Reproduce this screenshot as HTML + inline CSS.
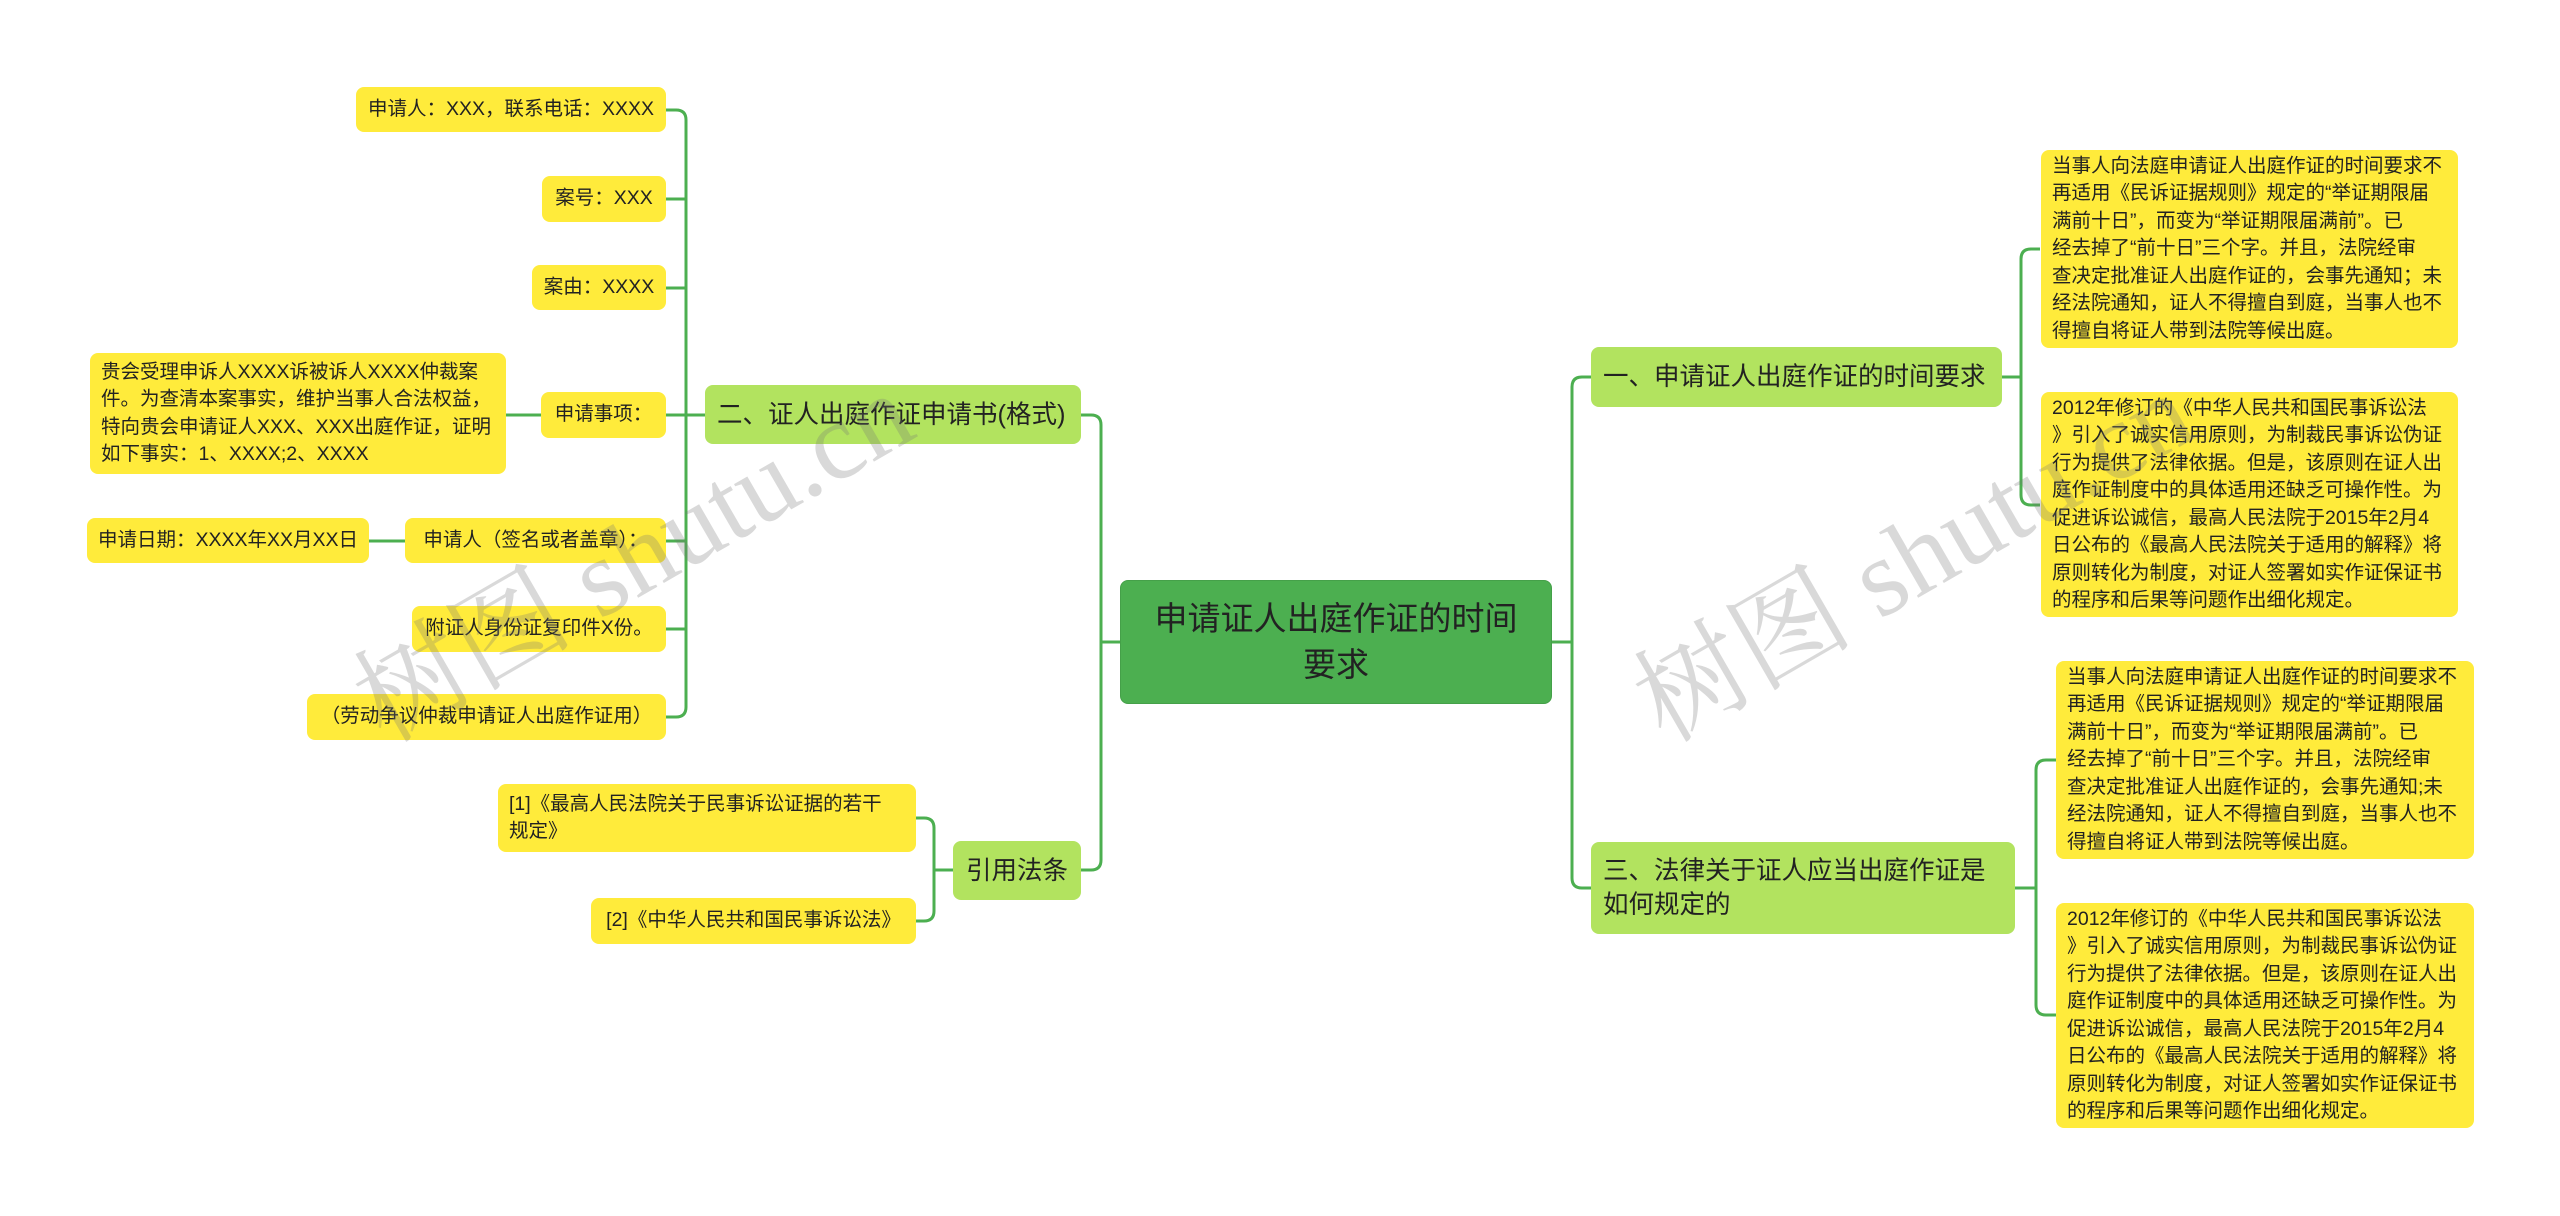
<!DOCTYPE html>
<html><head><meta charset="utf-8"><style>
body{margin:0;width:2560px;height:1216px;background:#fff;position:relative;overflow:hidden;font-family:"Liberation Sans","Noto Sans CJK SC",sans-serif;color:#222}
.n{position:absolute;box-sizing:border-box;border-radius:8px;display:flex;align-items:center;white-space:nowrap}
.y{background:#ffeb3b;font-size:19.5px;line-height:27.5px;padding:0 11px}
.g{background:#b2e35f;font-size:25.5px;line-height:34px;padding:0 12px}
.c{background:#4caf50;font-size:33px;line-height:46px;justify-content:center;text-align:center;border:1px solid #45a049}
.r{justify-content:center}
.wm{position:absolute;font-family:"Liberation Serif","Noto Serif CJK SC",serif;font-size:110px;color:rgba(120,120,120,0.28);transform:rotate(-30deg);white-space:nowrap}
</style></head><body>
<svg width="2560" height="1216" style="position:absolute;left:0;top:0" fill="none" stroke="#4caf50" stroke-width="3">
<path d="M1120 642 H1101"/>
<path d="M1081 415 H1091 Q1101 415 1101 425 V860 Q1101 870 1091 870 H1081"/>
<path d="M1551 642 H1572"/>
<path d="M1591 377 H1582 Q1572 377 1572 387 V878 Q1572 888 1582 888 H1591"/>
<path d="M2002 377 H2021"/>
<path d="M2040 249 H2031 Q2021 249 2021 259 V495 Q2021 505 2031 505 H2040"/>
<path d="M2015 888 H2036"/>
<path d="M2056 760 H2046 Q2036 760 2036 770 V1005 Q2036 1015 2046 1015 H2056"/>
<path d="M705 415 H686"/>
<path d="M666 110 H676 Q686 110 686 120 V707 Q686 717 676 717 H666"/>
<path d="M666 199 H686 M666 288 H686 M666 415 H686 M666 541 H686 M666 629 H686"/>
<path d="M541 415 H506"/>
<path d="M405 541 H369"/>
<path d="M953 870 H934"/>
<path d="M916 818 H924 Q934 818 934 828 V911 Q934 921 924 921 H916"/>
</svg>
<div class="n c" style="left:1120px;top:580px;width:432px;height:124px">申请证人出庭作证的时间<br>要求</div>
<div class="n g" style="left:705px;top:385px;width:376px;height:59px">二、证人出庭作证申请书(格式)</div>
<div class="n g" style="left:953px;top:841px;width:128px;height:59px;justify-content:center">引用法条</div>
<div class="n g" style="left:1591px;top:347px;width:411px;height:60px">一、申请证人出庭作证的时间要求</div>
<div class="n g" style="left:1591px;top:842px;width:424px;height:92px">三、法律关于证人应当出庭作证是<br>如何规定的</div>

<div class="n y r" style="left:356px;top:87px;width:310px;height:45px">申请人：XXX，联系电话：XXXX</div>
<div class="n y r" style="left:542px;top:176px;width:124px;height:46px">案号：XXX</div>
<div class="n y r" style="left:532px;top:265px;width:134px;height:45px">案由：XXXX</div>
<div class="n y r" style="left:541px;top:392px;width:125px;height:46px">申请事项：</div>
<div class="n y" style="left:90px;top:353px;width:416px;height:121px">贵会受理申诉人XXXX诉被诉人XXXX仲裁案<br>件。为查清本案事实，维护当事人合法权益，<br>特向贵会申请证人XXX、XXX出庭作证，证明<br>如下事实：1、XXXX;2、XXXX</div>
<div class="n y r" style="left:405px;top:518px;width:261px;height:45px">申请人（签名或者盖章）：</div>
<div class="n y r" style="left:87px;top:518px;width:282px;height:45px">申请日期：XXXX年XX月XX日</div>
<div class="n y r" style="left:412px;top:606px;width:254px;height:46px">附证人身份证复印件X份。</div>
<div class="n y r" style="left:307px;top:694px;width:359px;height:46px">（劳动争议仲裁申请证人出庭作证用）</div>
<div class="n y" style="left:498px;top:784px;width:418px;height:68px">[1]《最高人民法院关于民事诉讼证据的若干<br>规定》</div>
<div class="n y r" style="left:591px;top:898px;width:325px;height:46px">[2]《中华人民共和国民事诉讼法》</div>

<div class="n y" style="left:2041px;top:150px;width:417px;height:198px">当事人向法庭申请证人出庭作证的时间要求不<br>再适用《民诉证据规则》规定的“举证期限届<br>满前十日”，而变为“举证期限届满前”。已<br>经去掉了“前十日”三个字。并且，法院经审<br>查决定批准证人出庭作证的，会事先通知；未<br>经法院通知，证人不得擅自到庭，当事人也不<br>得擅自将证人带到法院等候出庭。</div>
<div class="n y" style="left:2041px;top:392px;width:417px;height:225px">2012年修订的《中华人民共和国民事诉讼法<br>》引入了诚实信用原则，为制裁民事诉讼伪证<br>行为提供了法律依据。但是，该原则在证人出<br>庭作证制度中的具体适用还缺乏可操作性。为<br>促进诉讼诚信，最高人民法院于2015年2月4<br>日公布的《最高人民法院关于适用的解释》将<br>原则转化为制度，对证人签署如实作证保证书<br>的程序和后果等问题作出细化规定。</div>
<div class="n y" style="left:2056px;top:661px;width:418px;height:198px">当事人向法庭申请证人出庭作证的时间要求不<br>再适用《民诉证据规则》规定的“举证期限届<br>满前十日”，而变为“举证期限届满前”。已<br>经去掉了“前十日”三个字。并且，法院经审<br>查决定批准证人出庭作证的，会事先通知;未<br>经法院通知，证人不得擅自到庭，当事人也不<br>得擅自将证人带到法院等候出庭。</div>
<div class="n y" style="left:2056px;top:903px;width:418px;height:225px">2012年修订的《中华人民共和国民事诉讼法<br>》引入了诚实信用原则，为制裁民事诉讼伪证<br>行为提供了法律依据。但是，该原则在证人出<br>庭作证制度中的具体适用还缺乏可操作性。为<br>促进诉讼诚信，最高人民法院于2015年2月4<br>日公布的《最高人民法院关于适用的解释》将<br>原则转化为制度，对证人签署如实作证保证书<br>的程序和后果等问题作出细化规定。</div>

<div class="wm" style="left:320px;top:470px">树图 shutu.cn</div>
<div class="wm" style="left:1600px;top:470px">树图 shutu.cn</div>
</body></html>
